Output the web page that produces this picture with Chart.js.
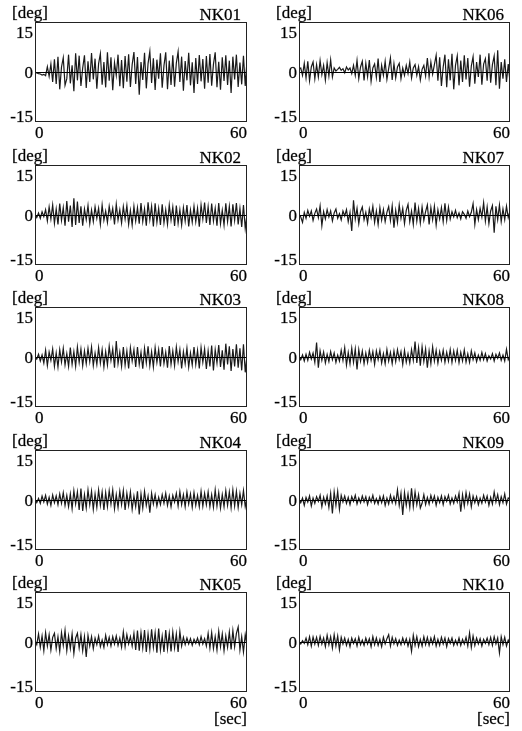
<!DOCTYPE html>
<html><head><meta charset="utf-8">
<script src="https://cdn.jsdelivr.net/npm/chart.js@4/dist/chart.umd.min.js"></script>
<style>
html,body{margin:0;padding:0;background:#fff;width:522px;height:731px;overflow:hidden;}
canvas{position:absolute;}
</style></head><body>
<script>
// ---- data ----
const panelNames = ['NK01','NK02','NK03','NK04','NK05','NK06','NK07','NK08','NK09','NK10'];
const timeStep = 0.5;          // seconds between samples
const xTicks = [0, 60];
const yTicks = [-15, 0, 15];
const yUnit = '[deg]';
const xUnit = '[sec]';

const nk01 = [
 0, -0.3, -0.5, -0.6, -0.9, -0.7, -1.1, 1.6, -1.3, 2.4,
 -3.0, 3.8, -3.6, 4.6, -5.2, 1.5, 4.3, -4.0, -2.0, 5.2,
 -3.4, 2.0, -5.8, 5.6, -2.5, 4.9, -4.2, 1.2, 5.0, -4.8,
 3.2, -3.0, 5.7, -2.2, 4.0, -5.0, 2.5, 5.5, -3.8, 3.0,
 -4.6, 5.9, -2.6, 4.4, -5.5, 2.8, -1.0, 5.2, -4.3, 3.6,
 -4.9, 4.8, -2.9, 5.3, -4.5, 2.2, 6.0, -3.6, 4.5, -6.8,
 3.0, -2.4, 5.8, -4.9, 2.6, 6.2, -3.3, 4.1, -5.4, 3.7,
 -2.0, 5.6, -4.7, 1.9, 5.9, -5.2, 3.4, -3.9, 5.0, -4.4,
 2.7, 6.1, -3.0, 4.6, -5.6, 3.3, -2.5, 5.8, -4.0, 2.9,
 -6.3, 4.2, -3.6, 5.1, -2.8, 3.9, -5.0, 4.8, -3.2, 5.4,
 -4.1, 2.3, 5.9, -4.6, 3.1, -5.3, 4.4, -2.7, 5.0, -3.9,
 3.4, -6.3, 4.6, -2.2, 5.2, -4.5, 2.8, -3.7, 4.9, -4.2,
 3.5];
const nk02 = [
 0.2, -0.8, 0.6, -1.0, 1.0, -0.5, 1.6, -1.8, 2.4, -1.2,
 3.0, -2.5, 1.8, -2.8, 3.4, -1.6, 2.2, -3.2, 4.2, -2.0,
 2.8, -3.6, 5.0, -3.0, 4.0, -2.4, 2.6, -3.2, 1.8, -1.4,
 2.8, -2.6, 1.5, -2.0, 2.4, -1.0, 2.0, -2.8, 3.0, -1.6,
 1.2, -2.2, 2.6, -0.8, 2.0, -2.8, 3.2, -1.5, 1.6, -2.4,
 2.5, -1.2, 2.8, -2.8, 1.4, -3.0, 2.6, -1.8, 2.2, -2.6,
 3.6, -2.0, 1.8, -3.2, 3.8, -1.4, 2.6, -3.4, 3.5, -2.2,
 2.0, -3.0, 3.2, -2.4, 1.6, -2.8, 3.0, -1.5, 2.4, -3.3,
 2.8, -2.5, 1.6, -3.0, 2.2, -1.8, 3.0, -3.4, 1.5, -2.2,
 2.6, -2.0, 2.0, -3.5, 3.0, -1.2, 3.7, -2.4, 2.5, -3.0,
 3.4, -1.8, 2.0, -3.2, 3.6, -2.6, 1.4, -3.0, 3.5, -2.0,
 2.6, -3.4, 3.2, -1.6, 3.6, -2.8, 2.0, -3.6, 3.0, -4.0,
 0.2];
const nk03 = [
 0.0, -0.6, 0.8, -1.2, 0.6, -1.8, 2.0, -2.6, 1.5, -1.0,
 2.4, -2.8, 1.2, -3.0, 2.2, -1.5, 2.6, -2.4, 1.0, -2.8,
 2.8, -2.2, 1.6, -2.8, 3.0, -1.6, 2.4, -2.6, 1.8, -2.0,
 2.6, -1.4, 3.0, -2.6, 1.2, -2.2, 2.8, -1.8, 2.2, -3.0,
 1.6, -2.4, 3.2, -1.0, 2.4, -3.2, 4.8, -2.0, 1.5, -2.8,
 3.0, -2.4, 1.8, -3.4, 2.8, -1.2, 2.2, -3.0, 3.0, -2.2,
 1.4, -3.5, 2.6, -1.8, 3.2, -2.6, 1.6, -3.0, 2.8, -1.6,
 2.2, -2.8, 3.0, -2.0, 1.4, -3.2, 3.3, -2.2, 1.8, -2.6,
 3.0, -1.4, 2.2, -3.4, 1.6, -2.0, 2.6, -3.0, 1.2, -2.4,
 3.0, -2.2, 2.0, -3.4, 2.8, -1.6, 2.4, -3.6, 1.8, -2.8,
 3.4, -4.0, 2.2, -1.8, 3.6, -3.0, 2.0, -3.8, 4.0, -2.2,
 3.2, -4.2, 2.4, -2.8, 3.8, -3.2, 2.6, -4.0, 3.8, -4.6,
 0.5];
const nk04 = [
 0.2, -0.8, 0.5, -1.0, 1.2, -0.6, 1.4, -1.2, 0.8, -1.6,
 1.5, -0.8, 1.2, -1.4, 1.8, -1.0, 2.2, -1.6, 1.4, -2.0,
 1.8, -2.6, 2.8, -1.2, 2.4, -3.0, 3.4, -3.3, 1.6, -2.4,
 3.0, -1.4, 2.6, -2.8, 1.8, -2.2, 3.0, -1.6, 2.4, -3.0,
 2.2, -2.0, 2.8, -1.2, 3.0, -2.6, 1.6, -2.2, 2.6, -1.4,
 2.8, -3.0, 2.0, -1.6, 2.4, -2.8, 1.2, -2.0, 2.6, -4.3,
 1.8, -2.4, 2.6, -1.6, 1.2, -3.8, 2.0, -1.2, 1.6, -1.8,
 0.8, -1.4, 1.6, -1.0, 2.0, -1.6, 1.2, -2.0, 1.4, -0.6,
 2.0, -1.8, 2.5, -1.4, 1.6, -2.0, 2.4, -1.2, 1.8, -2.2,
 2.2, -1.6, 1.4, -2.0, 2.6, -1.8, 2.0, -1.4, 2.4, -2.0,
 1.6, -2.2, 3.0, -1.8, 2.2, -2.4, 1.6, -2.0, 2.8, -1.6,
 2.4, -2.3, 3.0, -1.8, 2.6, -2.2, 2.0, -1.4, 2.8, -2.0,
 0.6];
const nk05 = [
 0.5, -0.8, 2.4, -1.6, 1.8, -2.6, 2.8, -1.2, 2.2, -2.4,
 1.4, 2.6, -2.0, 1.6, -2.8, 2.8, -1.0, 3.5, -2.6, 1.8,
 -2.0, 2.4, -3.5, 1.2, 2.6, -1.8, 2.2, -2.6, 1.6, -4.5,
 2.0, -1.2, 1.6, -2.0, 1.2, -0.8, 1.8, -1.4, 0.6, -1.6,
 2.0, -0.8, 1.4, -1.2, 1.6, -0.6, 1.8, -1.0, 1.2, -1.6,
 3.0, -1.4, 2.2, -0.6, 1.6, -1.2, 2.6, -2.4, 3.4, -2.6,
 2.8, -1.8, 3.6, -3.0, 2.4, -2.2, 3.8, -1.6, 2.8, -3.2,
 4.0, -2.4, 1.8, -3.0, 3.6, -2.0, 2.6, -2.8, 3.0, -1.8,
 2.4, -3.0, 3.2, -1.2, 1.4, -0.8, 1.2, -0.6, 1.0, -1.0,
 0.8, -0.4, 1.2, -0.8, 1.6, -0.6, 1.0, -1.2, 2.6, -1.8,
 2.8, -2.0, 1.6, -2.4, 3.2, -1.4, 2.4, -2.6, 1.8, -1.6,
 3.0, -2.2, 3.4, -1.4, 2.6, 4.5, -2.4, 1.6, -3.0, 2.2,
 -1.0];
const nk06 = [
 0.8, 1.2, -1.0, 2.6, -1.8, 3.2, -2.6, 1.5, 3.0, -2.0,
 2.2, -1.5, 3.4, -0.8, 2.0, -2.4, 2.8, -1.2, 3.6, -1.5,
 1.2, 0.3, 0.8, 1.4, 0.5, 1.0, -0.2, 1.5, 0.6, 1.2,
 -0.5, 2.0, -1.0, 3.5, -2.0, 1.5, 3.2, -2.5, 2.6, -1.4,
 3.6, -2.8, 1.2, 2.4, -1.6, 4.0, -3.0, 2.0, -1.0, 3.2,
 -2.2, 1.0, 4.2, -2.4, 2.5, -1.8, 1.5, 2.6, -2.0, 1.2,
 -1.0, 2.0, -0.5, 3.0, -1.8, 1.2, 2.2, -1.0, 1.6, -2.4,
 0.8, 2.0, -1.2, 4.2, -1.5, 3.0, -0.6, 2.2, 5.0, -2.6,
 4.4, -4.2, 1.5, 5.2, -4.6, 3.8, -2.5, 5.5, -5.2, 2.0,
 4.8, -4.0, 3.4, -3.0, 5.0, -2.2, 4.2, -4.4, 1.8, 4.6,
 -3.5, 3.0, -1.5, 5.2, -3.8, 2.4, 4.0, -2.6, 5.6, -3.2,
 2.2, 4.8, -4.0, 6.5, -5.0, 3.0, -2.0, 3.8, -3.0, 2.4,
 -3.0];
const nk07 = [
 0.3, -0.6, -2.2, 0.8, -1.0, 1.4, -0.4, 1.2, -1.6, 0.5,
 1.8, -0.8, 2.7, -3.2, 1.0, -1.2, 1.6, -0.6, 1.2, -1.8,
 0.6, 1.8, -1.0, 0.4, -1.5, 1.2, -0.3, 1.6, -2.0, 0.8,
 -4.8, 4.4, -1.2, 2.0, -2.6, 1.0, 2.4, -1.4, 0.8, -2.4,
 1.8, -0.8, 2.6, -2.2, 1.2, -2.8, 2.2, -1.5, 1.6, -2.0,
 0.8, 2.5, -1.6, 2.7, -3.8, 1.4, -2.2, 3.0, -1.0, 2.0,
 -2.6, 1.4, 3.2, -2.0, 1.2, -2.8, 3.7, -1.8, 2.0, -2.4,
 2.4, -1.6, 1.0, 3.0, -2.8, 2.2, -1.4, 2.6, -3.0, 1.6,
 -1.2, 2.2, -2.0, 3.5, -1.6, 2.4, -1.2, 1.0, -0.6, 1.4,
 -0.8, 0.6, -1.2, 1.0, 0.2, -1.0, 1.2, -0.5, 0.8, 3.4,
 -2.8, 1.6, -1.4, 2.0, -0.6, 3.7, -1.8, 2.4, -2.6, 1.2,
 2.8, -5.3, 2.6, -1.4, 3.0, -2.0, 1.8, -1.4, 2.6, -0.8,
 1.2];
const nk08 = [
 0.2, -0.8, 0.6, -1.2, 0.8, -1.0, 1.4, -0.6, 1.2, -1.6,
 4.3, -3.2, 1.8, -1.0, 1.5, -1.8, 0.8, -1.4, 1.6, -0.8,
 1.2, -1.6, 0.6, -1.2, 2.0, -1.0, 2.8, -2.4, 1.4, -2.0,
 2.6, -1.6, 2.4, -3.7, 2.2, -1.2, 1.8, -2.0, 1.2, -1.6,
 2.0, -1.0, 1.6, -2.2, 1.8, -0.8, 2.0, -1.8, 1.0, -2.0,
 2.2, -1.2, 1.4, -2.0, 1.8, -1.4, 2.2, -0.8, 1.6, -2.2,
 2.0, -1.6, 1.0, -1.8, 2.2, -1.0, 4.6, -1.8, 2.8, -2.6,
 3.0, -1.4, 2.4, -3.2, 1.8, -2.0, 3.0, -1.2, 2.0, -1.8,
 1.6, -1.0, 2.0, -1.6, 1.4, -1.2, 2.2, -1.6, 1.8, -1.0,
 2.0, -1.7, 1.4, -1.2, 2.1, -1.5, 1.0, -1.6, 1.8, -0.8,
 1.2, -1.4, 0.6, -1.0, 1.4, -0.8, 1.0, -1.2, 0.4, -0.6,
 1.0, -1.2, 0.8, -0.4, 1.2, -1.0, 0.6, -1.2, 2.3, -0.8,
 0.4];
const nk09 = [
 0.3, -0.8, 0.6, -1.6, 0.8, -0.6, 1.2, -1.8, 0.6, -1.0,
 1.0, -0.4, 1.4, -2.0, 0.8, -1.2, 1.2, -2.2, 2.0, -4.0,
 2.4, -1.6, 2.6, -2.8, 1.4, -0.6, 1.2, -1.0, 0.8, -1.4,
 1.0, -0.4, 1.4, -1.2, 0.6, -0.8, 1.2, -0.6, 1.0, -1.4,
 0.8, -0.6, 1.4, -1.0, 0.4, -1.2, 1.0, -0.8, 1.2, -1.6,
 0.6, -1.2, 1.4, -0.8, 1.0, -1.0, 3.0, -1.6, 2.0, -4.5,
 2.2, -1.6, 1.8, -2.2, 3.5, -2.0, 2.4, -1.4, 1.6, -2.4,
 -1.0, 1.6, -1.4, 0.8, -1.2, 1.4, -0.6, 1.2, -1.6, 0.8,
 -0.8, 1.2, -1.4, 1.0, -0.4, 1.4, -1.2, 0.6, -1.0, 1.2,
 -0.6, 2.0, -3.5, 1.6, -1.8, 2.2, -1.0, 1.8, -2.0, 1.2,
 -0.8, 1.0, -1.4, 0.6, -1.0, 1.4, -0.6, 1.2, -1.6, 0.8,
 -1.2, 2.4, -0.6, 1.6, -1.4, 1.0, -0.8, 1.8, -1.2, 0.6,
 0.2];
const nk10 = [
 0.0, -0.6, 0.4, -0.4, 1.2, -0.8, 1.6, -1.2, 1.5, -0.6,
 1.4, -1.0, 1.7, -0.6, 1.2, -1.4, 2.0, -0.8, 1.6, -1.8,
 2.2, -1.2, 1.8, -2.3, 1.4, -0.6, 1.2, -1.0, 0.8, -1.4,
 1.2, -0.4, 1.0, -1.2, 1.4, -0.8, 0.6, -1.0, 1.2, -0.6,
 1.0, -1.4, 1.6, -0.8, 1.2, -1.0, 0.8, -1.4, 1.4, -0.6,
 1.0, 2.2, -1.2, 1.4, -0.6, 1.0, -1.0, 0.6, -0.8, 1.2,
 -0.6, 1.0, -1.2, 0.8, -2.8, 2.0, -1.0, 1.6, -1.4, 0.8,
 -1.2, 1.6, -0.8, 1.4, -1.0, 1.2, -0.6, 1.6, -1.2, 0.8,
 -1.0, 1.4, -0.6, 1.2, -1.4, 1.0, -0.4, 1.2, -1.0, 0.6,
 -0.8, 1.2, -1.0, 0.8, -0.6, 1.4, -1.2, 2.7, -1.6, 1.8,
 -1.0, 1.2, -0.6, 1.0, -1.2, 0.8, -0.4, 1.2, -0.8, 1.4,
 -1.0, 1.6, -0.6, 1.2, -3.3, 1.6, -0.8, 1.4, -1.2, 0.6,
 -0.4];

const seriesList = [nk01, nk02, nk03, nk04, nk05, nk06, nk07, nk08, nk09, nk10];

// ---- layout ----
const FONT = '17px "Liberation Serif", "Times New Roman", serif';
const rowCanvasTop = [0, 143, 285, 428, 570];
const colCanvasLeft = [0, 261];
const colPad = [{left:35, right:14}, {left:38, right:12}];

function txt(ctx, s, x, y) {
  ctx.fillText(s, x, y);
  ctx.strokeText(s, x, y);
}

const decor = {
  id: 'decor',
  afterDatasetsDraw(chart, args, o) {
    const {ctx, chartArea: a, scales: {x, y}} = chart;
    ctx.save();
    ctx.strokeStyle = '#000';
    ctx.lineWidth = 1;
    // zero line
    const y0 = Math.round(y.getPixelForValue(0)) + 0.5;
    ctx.beginPath(); ctx.moveTo(a.left, y0); ctx.lineTo(a.right, y0); ctx.stroke();
    // frame
    ctx.strokeStyle = '#222';
    ctx.strokeRect(Math.round(a.left) + 0.5, Math.round(a.top) + 0.5,
                   Math.round(a.right - a.left) - 1, Math.round(a.bottom - a.top) - 1);
    ctx.fillStyle = '#000';
    ctx.strokeStyle = 'rgba(0,0,0,0.55)';
    ctx.lineWidth = 0.45;
    ctx.font = FONT;
    ctx.textBaseline = 'alphabetic';
    // y tick labels
    ctx.textAlign = 'right';
    for (const v of yTicks) {
      const py = y.getPixelForValue(v);
      let by;
      if (v === y.max) by = py + 15.5;
      else if (v === y.min) by = py;
      else by = py + 5.5;
      txt(ctx, String(v), a.left - 2, by);
    }
    // x tick labels
    for (const v of xTicks) {
      const px = x.getPixelForValue(v);
      ctx.textAlign = v === x.min ? 'left' : (v === x.max ? 'right' : 'center');
      txt(ctx, String(v), px, a.bottom + 16);
    }
    // units and name
    ctx.textAlign = 'left';
    txt(ctx, yUnit, a.left - 23, a.top - 4);
    ctx.textAlign = 'right';
    txt(ctx, o.name, a.right - 6, a.top - 2);
    if (o.showX) txt(ctx, xUnit, a.right, a.bottom + 32);
    ctx.restore();
  }
};

seriesList.forEach((vals, i) => {
  const col = Math.floor(i / 5), row = i % 5;
  const cv = document.createElement('canvas');
  const h = row === 4 ? 161 : 142;
  cv.width = 261; cv.height = h;
  cv.style.left = colCanvasLeft[col] + 'px';
  cv.style.top = rowCanvasTop[row] + 'px';
  cv.style.width = '261px'; cv.style.height = h + 'px';
  document.body.appendChild(cv);
  new Chart(cv, {
    type: 'line',
    data: {
      datasets: [{
        data: vals.map((v, k) => ({x: k * timeStep, y: v})),
        borderColor: '#1a1a1a',
        borderWidth: 1.2,
        pointRadius: 0,
        tension: 0,
        fill: false
      }]
    },
    options: {
      responsive: false,
      animation: false,
      devicePixelRatio: 1,
      layout: {padding: {left: colPad[col].left, right: colPad[col].right, top: 22, bottom: h - 122}},
      scales: {
        x: {type: 'linear', min: xTicks[0], max: xTicks[xTicks.length - 1], display: false},
        y: {type: 'linear', min: yTicks[0], max: yTicks[yTicks.length - 1], display: false}
      },
      plugins: {
        legend: {display: false},
        tooltip: {enabled: false},
        decor: {name: panelNames[i], showX: row === 4}
      }
    },
    plugins: [decor]
  });
});
</script>
</body></html>
